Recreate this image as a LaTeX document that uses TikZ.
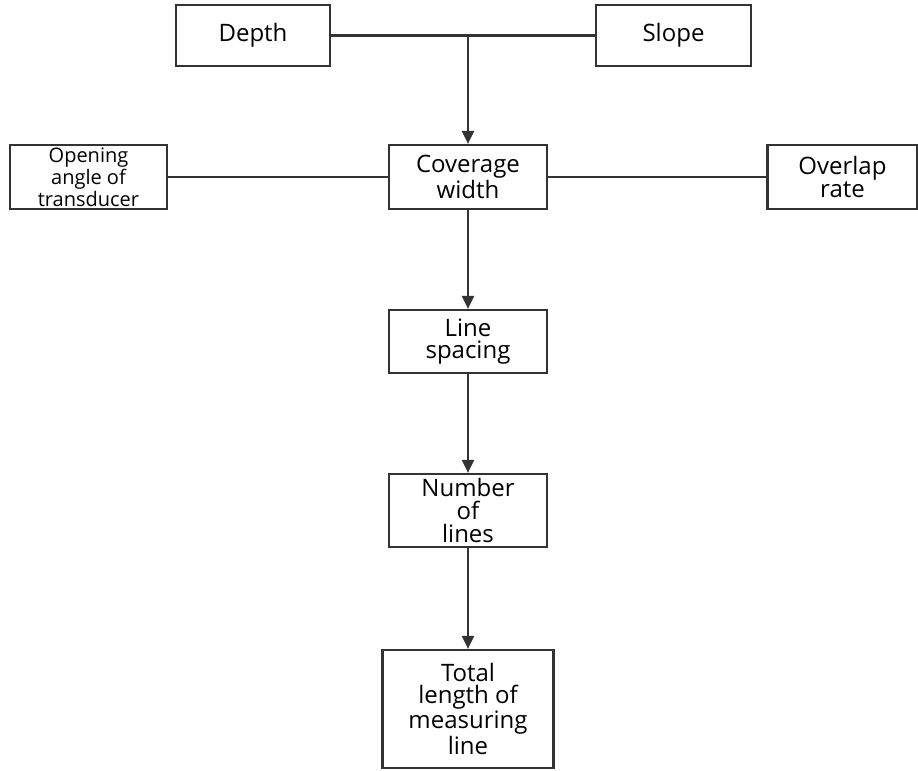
\documentclass[tikz,border=0pt]{standalone}
\usepackage{fontspec}
\setmainfont{Open Sans}
\usetikzlibrary{arrows.meta}

\begin{document}
\begin{tikzpicture}[x=0.5pt,y=-0.5pt,
	box/.style={draw=black!80,line width=1.1pt,align=center,inner sep=0pt,font=\fontsize{12}{11.3}\selectfont},
	link/.style={draw=black!80,line width=1.1pt},
	flow/.style={link,-{Triangle[length=6.5pt,width=6pt]}}]
		% 余白の固定
		\useasboundingbox (0,0) rectangle (918,771);
		% 箱の描画
		\node[box,minimum width=77pt,minimum height=30.5pt] (depth) at (253,35.5) {Depth};
		\node[box,minimum width=77.5pt,minimum height=30.5pt] (slope) at (673.5,35.5) {Slope};
		\node[box,minimum width=79pt,minimum height=32pt] (cov) at (468,177) {Coverage\\width};
		\node[box,minimum width=78.5pt,minimum height=32pt,font=\fontsize{10}{9.7}\selectfont] (angle) at (88.5,177) {Opening\\angle of\\transducer};
		\node[box,minimum width=75pt,minimum height=32pt] (overlap) at (842.5,177) {Overlap\\rate};
		\node[box,minimum width=79pt,minimum height=31.5pt] (spacing) at (468,341.5) {Line\\spacing};
		\node[box,minimum width=79pt,minimum height=36.5pt] (number) at (468,510.5) {Number\\of\\lines};
		\node[box,minimum width=85.5pt,minimum height=59pt] (total) at (468,709) {Total\\length of\\measuring\\line};
		% 合流点
		\coordinate (join) at (depth.east -| cov.north);
		% 線の描画
		\draw[link] (depth.east)--(slope.west);
		\draw[link] (angle.east)--(cov.west);
		\draw[link] (cov.east)--(overlap.west);
		\draw[flow] (join)--(cov.north);
		\draw[flow] (cov.south)--(spacing.north);
		\draw[flow] (spacing.south)--(number.north);
		\draw[flow] (number.south)--(total.north);
	\end{tikzpicture}
\end{document}
